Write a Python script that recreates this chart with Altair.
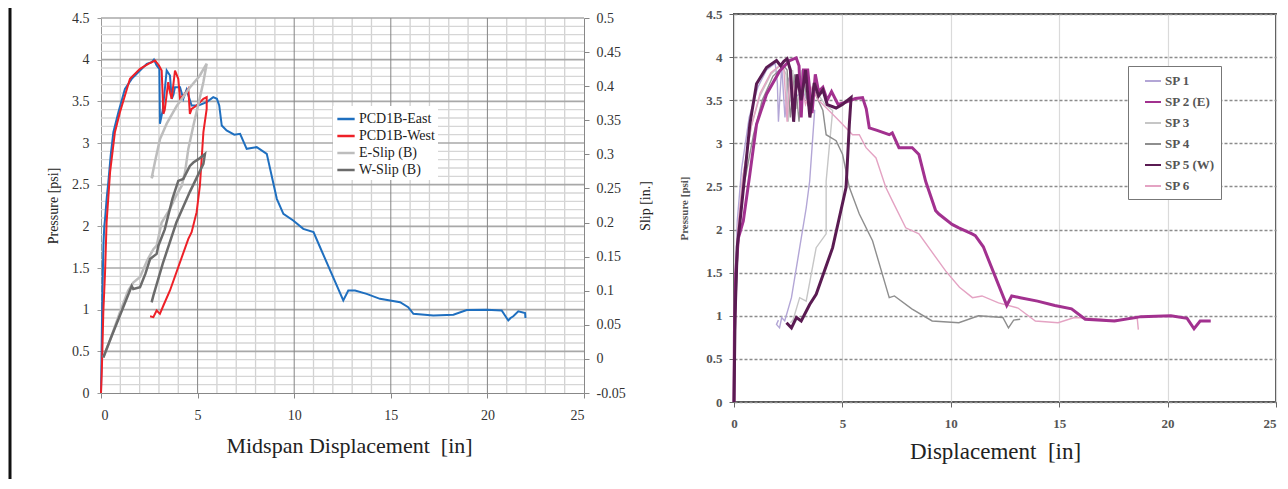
import altair as alt
import pandas as pd

# ---------------- left panel: PCD1B test ----------------
east_d = [0, 0.03, 0.06, 0.1, 0.13, 0.17, 0.21, 0.3, 0.38, 0.5, 0.64, 0.9, 1.24, 1.59, 2.02, 2.37, 2.63, 2.74,
          2.88, 3.02, 3.05, 3.2, 3.4, 3.57, 3.66, 3.75, 3.83, 4.09, 4.26, 4.43, 4.69, 5.04, 5.47, 5.81, 6.0, 6.12,
          6.25, 6.5, 6.9, 7.2, 7.54, 8.06, 8.58, 9.1, 9.44, 9.95, 10.47, 11.0, 11.3, 12.54, 12.8, 13.15, 13.75,
          14.44, 15.48, 15.9, 16.17, 17.2, 18.24, 18.93, 19.96, 20.74, 21.08, 21.2, 21.34, 21.6, 21.95, 21.97]
east_p = [0, 0.5, 1.0, 1.5, 1.8, 2.0, 2.09, 2.35, 2.53, 2.85, 3.13, 3.37, 3.65, 3.77, 3.87, 3.95, 3.97, 4.0,
          3.93, 3.89, 3.23, 3.4, 3.87, 3.81, 3.53, 3.58, 3.67, 3.67, 3.53, 3.64, 3.45, 3.45, 3.49, 3.55, 3.53, 3.45,
          3.21, 3.15, 3.1, 3.11, 2.93, 2.95, 2.87, 2.33, 2.15, 2.07, 1.97, 1.93, 1.77, 1.11, 1.23, 1.23, 1.19,
          1.13, 1.09, 1.03, 0.95, 0.93, 0.94, 0.996, 1.0, 0.99, 0.87, 0.9, 0.92, 0.98, 0.96, 0.9]

west_d = [0, 0.04, 0.08, 0.12, 0.21, 0.29, 0.47, 0.72, 0.98, 1.5, 2.02, 2.45, 2.8, 3.0, 3.14, 3.23, 3.3, 3.48,
          3.57, 3.66, 3.83, 4.0, 4.09, 4.35, 4.52, 4.6, 4.69, 4.95, 5.12, 5.3, 5.47, 5.47, 5.3, 5.12, 4.95, 4.69,
          4.52, 3.57, 3.23, 3.05, 2.88, 2.71, 2.54]
west_p = [0, 0.25, 0.6, 0.97, 1.45, 2.05, 2.65, 3.13, 3.37, 3.77, 3.89, 3.95, 3.99, 3.93, 3.87, 3.35, 3.4, 3.73,
          3.61, 3.53, 3.87, 3.77, 3.53, 3.59, 3.65, 3.35, 3.41, 3.45, 3.49, 3.53, 3.55, 3.41, 3.13, 2.49, 2.17, 1.93,
          1.85, 1.23, 1.05, 0.95, 0.99, 0.91, 0.92]

eslip_d = [0.12, 0.5, 1.0, 1.4, 1.67, 2.02, 2.4, 2.71, 2.88, 3.14, 3.57, 3.9, 4.18, 4.35, 4.52, 4.78, 5.05, 5.3,
           5.47, 5.1, 4.6, 3.92, 3.4, 3.05, 2.8, 2.62, 2.7]
eslip_s = [0.002, 0.03, 0.07, 0.1, 0.112, 0.12, 0.145, 0.161, 0.166, 0.2, 0.22, 0.24, 0.254, 0.274, 0.308, 0.342,
           0.375, 0.406, 0.433, 0.415, 0.398, 0.371, 0.345, 0.322, 0.29, 0.265, 0.27]

wslip_d = [0.12, 0.5, 1.0, 1.59, 1.67, 2.02, 2.3, 2.54, 2.88, 2.97, 3.3, 3.7, 4.0, 4.26, 4.6, 4.78, 5.04, 5.38,
           5.3, 4.6, 3.9, 3.2, 2.71, 2.62]
wslip_s = [0.002, 0.03, 0.065, 0.107, 0.1025, 0.105, 0.125, 0.1465, 0.154, 0.166, 0.19, 0.235, 0.261, 0.264,
           0.283, 0.288, 0.293, 0.3005, 0.286, 0.245, 0.2, 0.14, 0.0927, 0.083]

left_series = ["PCD1B-East", "PCD1B-West", "E-Slip (B)", "W-Slip (B)"]
left_colors = ["#1f6fbf", "#ee2027", "#bdbdbd", "#6b6b6b"]

x_ticks = [0, 5, 10, 15, 20, 25]
p_ticks = [0, 0.5, 1, 1.5, 2, 2.5, 3, 3.5, 4, 4.5]
slip_ticks = [-0.05, 0, 0.05, 0.1, 0.15, 0.2, 0.25, 0.3, 0.35, 0.4, 0.45, 0.5]
grid_x_minor = [1, 2, 3, 4, 6, 7, 8, 9, 11, 12, 13, 14, 16, 17, 18, 19, 21, 22, 23, 24]
grid_x_major = [5, 10, 15, 20]
grid_p_minor = [0.1, 0.2, 0.3, 0.4, 0.6, 0.7, 0.8, 0.9, 1.1, 1.2, 1.3, 1.4, 1.6, 1.7, 1.8, 1.9, 2.1, 2.2, 2.3,
                2.4, 2.6, 2.7, 2.8, 2.9, 3.1, 3.2, 3.3, 3.4, 3.6, 3.7, 3.8, 3.9, 4.1, 4.2, 4.3, 4.4]
grid_p_major = [0.5, 1, 1.5, 2, 2.5, 3, 3.5, 4, 4.5]

# ---------------- right panel: SP specimens ----------------
sp1_d = [0, 0.06, 0.15, 0.35, 0.7, 1.1, 1.5, 1.9, 2.0, 2.05, 2.2, 2.35, 2.5, 2.9, 3.2, 3.5, 3.72, 3.49, 3.33,
         2.65, 2.34, 2.2, 2.1, 1.96, 2.05]
sp1_p = [0, 1.3, 2.1, 2.7, 3.3, 3.65, 3.85, 3.93, 3.7, 3.25, 3.9, 3.3, 3.75, 3.55, 3.6, 3.4, 3.38, 2.56, 2.25,
         1.21, 0.94, 0.98, 0.86, 0.9, 0.95]
sp2_d = [0, 0.02, 0.08, 0.2, 0.43, 0.73, 1.04, 1.5, 2.11, 2.57, 2.87, 3.0, 3.1, 3.2, 3.4, 3.6, 3.75, 3.9, 4.1,
         4.3, 4.5, 4.8, 5.2, 5.6, 5.93, 6.1, 6.24, 6.6, 7.16, 7.3, 7.61, 8.22, 8.53, 8.84, 9.3, 9.45, 10.06, 10.37,
         10.98, 11.13, 11.5, 12.58, 12.81, 13.2, 14.0, 14.8, 15.57, 16.2, 17.55, 18.78, 20.15, 20.9, 21.22, 21.5,
         21.99]
sp2_p = [0, 0.8, 1.5, 1.9, 2.1, 2.64, 3.22, 3.57, 3.84, 3.96, 3.99, 3.9, 3.3, 3.85, 3.85, 3.35, 3.8, 3.6, 3.65,
         3.5, 3.6, 3.45, 3.48, 3.52, 3.53, 3.4, 3.18, 3.15, 3.1, 3.12, 2.95, 2.95, 2.87, 2.56, 2.22, 2.18, 2.06,
         2.02, 1.95, 1.93, 1.8, 1.12, 1.23, 1.21, 1.17, 1.12, 1.08, 0.96, 0.94, 0.99, 1.0, 0.97, 0.85, 0.94, 0.94]
sp3_d = [0, 0.07, 0.18, 0.4, 0.8, 1.2, 1.7, 2.2, 2.4, 2.5, 2.7, 2.9, 3.1, 3.4, 3.8, 4.2, 4.55, 4.25, 4.25, 3.79,
         3.33, 3.03, 2.72, 2.6]
sp3_p = [0, 1.2, 2.0, 2.6, 3.2, 3.55, 3.8, 3.92, 3.8, 3.25, 3.85, 3.4, 3.7, 3.5, 3.6, 3.45, 3.38, 2.56, 1.95, 1.79,
         1.17, 1.21, 0.95, 0.92]
sp4_d = [0, 0.08, 0.2, 0.45, 0.9, 1.3, 1.8, 2.3, 2.45, 2.6, 2.8, 3.0, 3.15, 3.4, 3.7, 4.1, 4.25, 4.71, 5.01, 5.32,
         5.78, 6.39, 7.16, 7.4, 8.2, 9.14, 10.37, 11.28, 12.4, 12.66, 12.9, 13.2]
sp4_p = [0, 1.1, 1.9, 2.5, 3.1, 3.5, 3.78, 3.9, 3.85, 3.3, 3.8, 3.25, 3.85, 3.45, 3.6, 3.38, 3.1, 3.03, 2.87, 2.49,
         2.18, 1.87, 1.21, 1.23, 1.08, 0.94, 0.92, 1.0, 0.98, 0.86, 0.95, 0.96]
sp5_d = [0, 0.05, 0.15, 0.28, 0.5, 0.73, 1.04, 1.5, 1.96, 2.15, 2.3, 2.45, 2.6, 2.75, 2.9, 3.1, 3.3, 3.5, 3.7, 3.9,
         4.1, 4.3, 4.71, 5.0, 5.4, 5.32, 5.17, 4.55, 3.79, 3.49, 3.1, 2.88, 2.65, 2.42]
sp5_p = [0, 1.0, 1.8, 2.1, 2.64, 3.22, 3.69, 3.88, 3.96, 3.9, 3.95, 3.98, 3.85, 3.25, 3.8, 3.5, 3.85, 3.3, 3.7,
         3.55, 3.62, 3.45, 3.41, 3.45, 3.53, 3.22, 2.49, 1.79, 1.25, 1.13, 0.94, 0.98, 0.86, 0.92]
sp6_d = [0, 0.07, 0.17, 0.4, 0.8, 1.2, 1.7, 2.1, 2.3, 2.45, 2.6, 2.8, 3.0, 3.3, 3.6, 3.9, 4.3, 4.86, 5.47, 5.78,
         6.09, 6.55, 7.0, 7.31, 7.92, 8.53, 9.76, 10.4, 11.0, 11.44, 12.2, 13.1, 13.9, 14.95, 15.7, 16.5, 17.5,
         18.6, 18.65]
sp6_p = [0, 1.2, 2.0, 2.6, 3.2, 3.58, 3.82, 3.9, 3.85, 3.25, 3.88, 3.5, 3.8, 3.45, 3.65, 3.5, 3.4, 3.26, 3.1, 3.1,
         2.95, 2.83, 2.49, 2.33, 2.02, 1.95, 1.52, 1.33, 1.21, 1.23, 1.15, 1.09, 0.94, 0.92, 0.98, 0.97, 0.95,
         0.97, 0.84]

right_series = ["SP 1", "SP 2 (E)", "SP 3", "SP 4", "SP 5 (W)", "SP 6"]
right_colors = ["#b3a6d6", "#a2318f", "#c6c6c6", "#8e8e8e", "#5a1b52", "#e4a3c3"]

SERIF = "Liberation Serif"
TOP = 4          # empty strip above the 4.5 line of the left panel
LEFT_H = 375     # left plot height from 4.5 to 0


def frame(name, d, v):
    return pd.DataFrame({"series": name, "d": d, "v": v, "i": list(range(len(d)))})


press_df = pd.concat([frame("PCD1B-East", east_d, east_p), frame("PCD1B-West", west_d, west_p)])
slip_df = pd.concat([frame("E-Slip (B)", eslip_d, eslip_s), frame("W-Slip (B)", wslip_d, wslip_s)])
thin_df = pd.concat([frame("SP 1", sp1_d, sp1_p), frame("SP 3", sp3_d, sp3_p), frame("SP 4", sp4_d, sp4_p),
                     frame("SP 6", sp6_d, sp6_p)])
thick_df = pd.concat([frame("SP 2 (E)", sp2_d, sp2_p), frame("SP 5 (W)", sp5_d, sp5_p)])

# ---------------- left chart ----------------
xs = alt.Scale(domain=[0, 25], nice=False, zero=False)
ps = alt.Scale(domain=[0, 4.5], nice=False, zero=False, range=[LEFT_H + TOP, TOP])
ss = alt.Scale(domain=[-0.05, 0.5], nice=False, zero=False, range=[LEFT_H + TOP, TOP])

x_axis_left = alt.Axis(values=x_ticks, title="Midspan Displacement\u00a0 [in]", titleFont=SERIF,
                       titleFontSize=22, titleFontWeight="normal", titleColor="#222", titlePadding=13,
                       titleX=248, labelFont=SERIF, labelFontSize=14, labelColor="#333", labelPadding=10,
                       tickSize=5, tickColor="#888", domainColor="#888", grid=False)
p_axis = alt.Axis(values=p_ticks, format=".1~f", orient="left", title="Pressure [psi]", titleFont=SERIF,
                  titleFontSize=14, titleFontWeight="normal", titleColor="#222", titlePadding=11,
                  labelFont=SERIF, labelFontSize=14, labelColor="#333", labelPadding=8, tickSize=4,
                  tickColor="#999", domainColor="#999", grid=False)
s_axis = alt.Axis(values=slip_ticks, orient="right", title="Slip [in.]", titleAngle=270,
                  labelExpr="(datum.value < 0 ? '-' : '') + format(abs(datum.value), '.2~f')",
                  titleFont=SERIF, titleFontSize=14, titleFontWeight="normal", titleColor="#222",
                  titlePadding=27, labelFont=SERIF, labelFontSize=14, labelColor="#333", labelPadding=7,
                  tickSize=5, tickColor="#888", domainColor="#888", grid=False)

left_color = alt.Color("series:N", scale=alt.Scale(domain=left_series, range=left_colors),
                       legend=alt.Legend(title=None, orient="none", legendX=232, legendY=88 + TOP,
                                         fillColor="white", padding=3, labelFont=SERIF, labelFontSize=14,
                                         labelColor="#222", symbolType="stroke", symbolSize=300,
                                         symbolStrokeWidth=2.5, rowPadding=0, labelOffset=3, labelLimit=200))

vgrid_minor = pd.DataFrame({"d": grid_x_minor, "top": 4.5, "bottom": 0.0})
vgrid_major = pd.DataFrame({"d": grid_x_major, "top": 4.5, "bottom": 0.0})

gx_minor = alt.Chart(vgrid_minor).mark_rule(color="#d2d2d2", strokeWidth=1.3).encode(
    x=alt.X("d:Q", scale=xs, axis=x_axis_left),
    y=alt.Y("top:Q", scale=ps, axis=p_axis), y2="bottom:Q")
gx_major = alt.Chart(vgrid_major).mark_rule(color="#858585", strokeWidth=1).encode(
    x=alt.X("d:Q", scale=xs, axis=x_axis_left),
    y=alt.Y("top:Q", scale=ps, axis=p_axis), y2="bottom:Q")
gp_minor = alt.Chart(pd.DataFrame({"v": grid_p_minor})).mark_rule(color="#d6d6d6", strokeWidth=1.3).encode(
    y=alt.Y("v:Q", scale=ps, axis=p_axis))
gp_major = alt.Chart(pd.DataFrame({"v": grid_p_major})).mark_rule(color="#a8a8a8", strokeWidth=1.6).encode(
    y=alt.Y("v:Q", scale=ps, axis=p_axis))
edge_rule = alt.Chart(pd.DataFrame({"d": [0]})).mark_rule(color="#111", strokeWidth=3).encode(
    x=alt.value(-91), y=alt.value(-6), y2=alt.value(465))

press_lines = alt.Chart(press_df).mark_line(strokeWidth=2).encode(
    x=alt.X("d:Q", scale=xs, axis=x_axis_left),
    y=alt.Y("v:Q", scale=ps, axis=p_axis),
    color=left_color,
    order=alt.Order("i:Q"),
)
slip_lines = alt.Chart(slip_df).mark_line(strokeWidth=2.5).encode(
    x=alt.X("d:Q", scale=xs, axis=x_axis_left),
    y=alt.Y("v:Q", scale=ss, axis=s_axis),
    color=left_color,
    order=alt.Order("i:Q"),
)

press_layer = alt.layer(edge_rule, gx_minor, gp_minor, gp_major, gx_major, press_lines)
left = alt.layer(press_layer, slip_lines).resolve_scale(y="independent").properties(
    width=483, height=LEFT_H + TOP, view=alt.ViewBackground(strokeWidth=0))

# ---------------- right chart ----------------
xs_r = alt.Scale(domain=[0, 25], nice=False, zero=False)
ps_r = alt.Scale(domain=[0, 4.5], nice=False, zero=False)

x_axis_r = alt.Axis(
    values=x_ticks, title="Displacement\u00a0 [in]", titleFont=SERIF, titleFontSize=23,
    titleFontWeight="normal", titleColor="#222", titlePadding=10, titleX=261,
    labelFont=SERIF, labelFontSize=13, labelFontWeight="bold", labelColor="#555", labelPadding=10,
    labelAlign={"condition": {"test": "datum.value == 25", "value": "right"}, "value": "center"},
    tickSize=5, tickColor="#666", domain=False, grid=True, gridColor="#dadada", gridWidth=1.2)
y_axis_r = alt.Axis(
    values=p_ticks, format=".1~f", title="Pressure [psi]", titleFont=SERIF, titleFontSize=11,
    titleFontWeight="bold", titleColor="#555", titlePadding=16,
    labelFont=SERIF, labelFontSize=13, labelFontWeight="bold", labelColor="#555", labelPadding=7,
    tickSize=5, tickColor="#666", domain=False, grid=True, gridColor="#8c8c8c", gridWidth=1.3,
    gridDash=[3, 2])
right_color = alt.Color("series:N", scale=alt.Scale(domain=right_series, range=right_colors),
                        legend=alt.Legend(title=None, orient="none", legendX=394, legendY=52,
                                          fillColor="white", strokeColor="#777", padding=6, symbolOffset=10,
                                          labelFont=SERIF, labelFontSize=13, labelFontWeight="bold",
                                          labelColor="#555", symbolType="stroke", symbolSize=256,
                                          symbolStrokeWidth=2, rowPadding=5, labelOffset=3, labelLimit=200))

thin_lines = alt.Chart(thin_df).mark_line(strokeWidth=1.4).encode(
    x=alt.X("d:Q", scale=xs_r, axis=x_axis_r),
    y=alt.Y("v:Q", scale=ps_r, axis=y_axis_r),
    color=right_color,
    order=alt.Order("i:Q"),
)
thick_lines = alt.Chart(thick_df).mark_line(strokeWidth=3).encode(
    x=alt.X("d:Q", scale=xs_r, axis=x_axis_r),
    y=alt.Y("v:Q", scale=ps_r, axis=y_axis_r),
    color=right_color,
    order=alt.Order("i:Q"),
)
right = alt.layer(thin_lines, thick_lines).properties(
    width=542, height=388, view=alt.ViewBackground(stroke="#555", strokeWidth=2))

chart = (
    alt.hconcat(left, right, spacing=24)
    .resolve_scale(color="independent")
    .resolve_legend(color="independent")
    .properties(padding={"top": -2, "left": 0, "right": 0, "bottom": 0})
    .configure(font=SERIF)
)

chart.save("out.html", embed_options={"renderer": "svg", "actions": False})
